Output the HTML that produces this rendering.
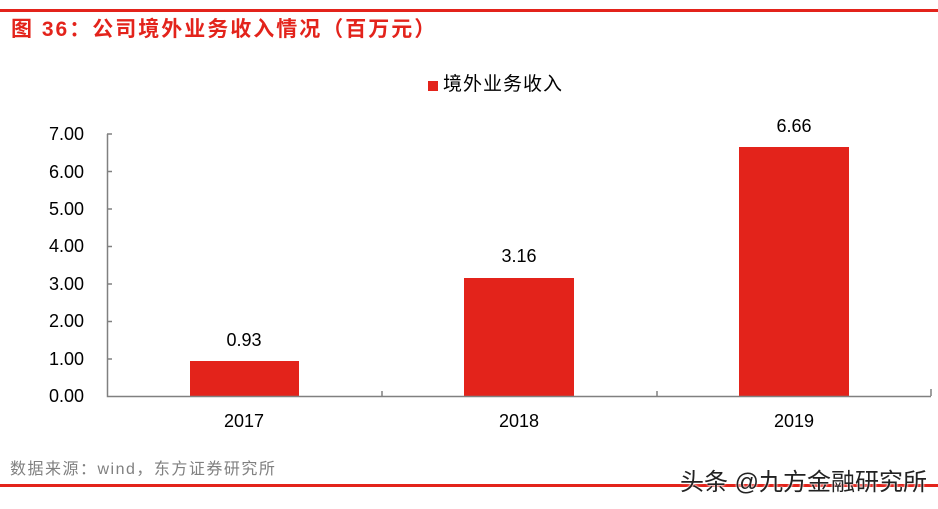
<!DOCTYPE html>
<html><head><meta charset="utf-8"><style>
body{margin:0;width:938px;height:509px;background:#fff;overflow:hidden;position:relative;font-family:"Liberation Sans","Noto Sans CJK SC",sans-serif;}
.a{position:absolute;white-space:nowrap;}
</style></head><body>
<div class="a" style="left:0;top:9px;width:938px;height:3px;background:#e3231b"></div>
<div class="a" style="left:11px;top:17px;font-size:21px;font-weight:bold;color:#e3231b;line-height:26px;letter-spacing:2px">图 36：公司境外业务收入情况（百万元）</div>
<div class="a" style="left:428px;top:81px;width:10px;height:10px;background:#e3231b"></div>
<div class="a" style="left:443px;top:73px;font-size:19px;line-height:24px;color:#000;letter-spacing:1px">境外业务收入</div>
<svg class="a" style="left:0;top:0" width="938" height="509">
<g font-family="Liberation Sans, sans-serif" font-size="18" fill="#000" text-anchor="end">
<text x="84" y="140">7.00</text><text x="84" y="178">6.00</text><text x="84" y="215">5.00</text><text x="84" y="252">4.00</text><text x="84" y="290">3.00</text><text x="84" y="327">2.00</text><text x="84" y="365">1.00</text><text x="84" y="402">0.00</text>
</g>
<g fill="#e3231b">
<rect x="190" y="361" width="109" height="35"/>
<rect x="464" y="278" width="110" height="118"/>
<rect x="739" y="147" width="110" height="249"/>
</g>
<g stroke="#808080" stroke-width="1.5" fill="none">
<path d="M107.5 134V396.5H931"/>
<path d="M107 134H112M107 171.5H112M107 209H112M107 246.5H112M107 284H112M107 321.5H112M107 359H112"/>
<path d="M382 396V391M657 396V391M931 396V389"/>
</g>
<g font-family="Liberation Sans, sans-serif" font-size="18" fill="#000" text-anchor="middle">
<text x="244" y="346">0.93</text><text x="519" y="262">3.16</text><text x="794" y="132">6.66</text>
<text x="244" y="427">2017</text><text x="519" y="427">2018</text><text x="794" y="427">2019</text>
</g>
</svg>
<div class="a" style="left:10px;top:460px;font-size:16px;color:#808080;line-height:20px;letter-spacing:1.5px">数据来源：wind，东方证券研究所</div>
<div class="a" style="left:0;top:484px;width:938px;height:3px;background:#e3231b"></div>
<div class="a" style="left:680px;top:468px;font-size:24px;color:#222;line-height:30px;text-shadow:0 0 2px #fff,0 0 2px #fff">头条 @九方金融研究所</div>
</body></html>
